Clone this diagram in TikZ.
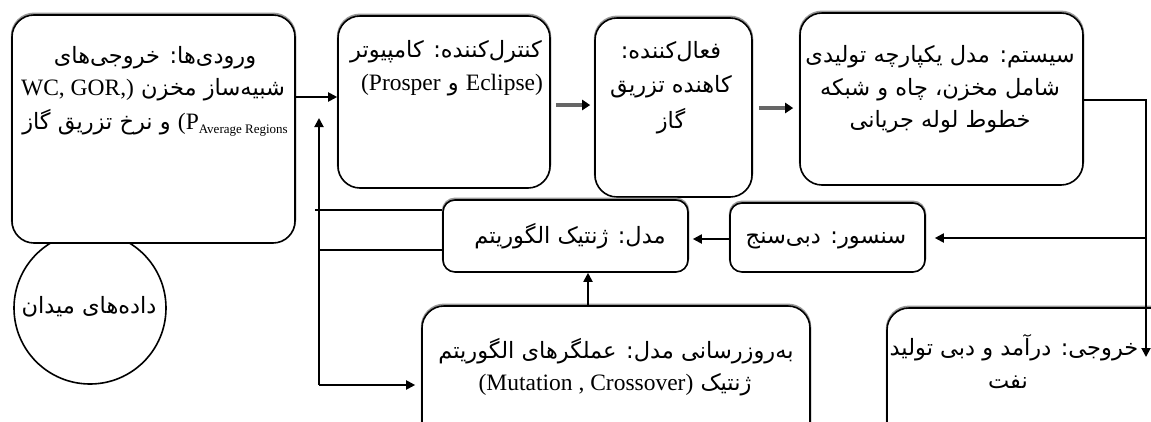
\documentclass[tikz,border=0pt]{standalone}
\usepackage{fontspec}
\setmainfont{Liberation Serif}
\newfontfamily\fa[Script=Arabic]{DejaVu Sans}
\TeXXeTstate=1
\usetikzlibrary{arrows.meta,fit}
\newcommand\fatext[1]{{\fa\beginR #1\endR}}
\newcommand\lt[1]{{\rmfamily\fontsize{23.5}{26}\selectfont #1}}
\begin{document}
\begin{tikzpicture}[x=1pt,y=-1pt,
  box/.style={draw, line width=1.6pt, fill=white, rounded corners=22pt, inner sep=0pt,
    preaction={draw=black!40, line width=2.5pt, transform canvas={yshift=1.2pt}}},
  sbox/.style={box, rounded corners=12pt},
  t/.style={anchor=base, inner sep=0pt, font=\fa\fontsize{22.5}{26}\selectfont},
  ln/.style={line width=1.9pt},
  arr/.style={ln, -{Triangle[length=9pt,width=9pt]}},
  garr/.style={line width=3.8pt, draw=black!60, -{Triangle[length=8pt,width=10pt,color=black]}}]
\useasboundingbox (0,0) rectangle (1151,421);
\clip (0,0) rectangle (1151,421);
% field data circle (drawn first, box covers its top)
\node[circle, draw, line width=1.6pt, minimum size=152pt, inner sep=0pt] (field) at (90,308) {};
\node[t] (fieldt) at (89,313) {\fatext{داده‌های میدان}};
% boxes
\node[box, fit={(12,15) (295,243)}] (in) {};
\node[box, fit={(338,16) (550,188)}] (ctrl) {};
\node[box, fit={(595,18) (752,197)}] (act) {};
\node[box, fit={(800,13) (1083,185)}] (sys) {};
\node[sbox, fit={(443,200) (688,272)}] (ga) {};
\node[sbox, fit={(730,203) (925,272)}] (sensor) {};
\node[box, fit={(422,306) (810,470)}] (upd) {};
\node[box, fit={(887,308) (1180,470)}] (out) {};
% texts
\node[t] (in1) at (155,63) {\fatext{ورودی‌ها: خروجی‌های}};
\node[t] (in2) at (153,95) {\lt{WC, GOR,)} \fatext{شبیه‌ساز مخزن}};
\node[t] (in3) at (155,129) {\fatext{و نرخ تزریق گاز} \lt{(P\raisebox{-4pt}{\fontsize{13}{13}\selectfont Average Regions}}};
\node[t] (ctrl1) at (446,57) {\fatext{کنترل‌کننده: کامپیوتر}};
\node[t] (ctrl2) at (452,90) {\lt{(Prosper} \fatext{و} \lt{Eclipse)}};
\node[t] (act1) at (671,58) {\fatext{فعال‌کننده:}};
\node[t] (act2) at (671,92) {\fatext{کاهنده تزریق}};
\node[t] (act3) at (671,128) {\fatext{گاز}};
\node[t] (sys1) at (940,62) {\fatext{سیستم: مدل یکپارچه تولیدی}};
\node[t] (sys2) at (940,95) {\fatext{شامل مخزن، چاه و شبکه}};
\node[t] (sys3) at (940,127) {\fatext{خطوط لوله جریانی}};
\node[t] (gat) at (570,243) {\fatext{مدل: ژنتیک الگوریتم}};
\node[t] (sent) at (826,243) {\fatext{سنسور: دبی‌سنج}};
\node[t] (upd1) at (616,358) {\fatext{به‌روزرسانی مدل: عملگرهای الگوریتم}};
\node[t] (upd2) at (615,390) {\lt{(Mutation , Crossover)} \fatext{ژنتیک}};
\node[t] (out1) at (1014,355) {\fatext{خروجی: درآمد و دبی تولید}};
\node[t] (out2) at (1008,388) {\fatext{نفت}};
% connectors
\coordinate (a1) at (0,97);
\draw[arr] (a1 -| in.east) -- (a1 -| ctrl.west);
\coordinate (a2) at (0,105);
\draw[garr, shorten <=5pt, shorten >=4pt] (a2 -| ctrl.east) -- (a2 -| act.west);
\coordinate (a3) at (0,108);
\draw[garr, shorten <=6pt, shorten >=6pt] (a3 -| act.east) -- (a3 -| sys.west);
\coordinate (rc) at (1146,100);
\coordinate (rb) at (1146,357);
\draw[arr] (rc -| sys.east) -- (rc) -- (rb);
\coordinate (rs) at (1146,238);
\draw[arr, shorten >=9pt] (rs) -- (rs -| sensor.east);
\coordinate (sg) at (0,239);
\draw[arr, shorten >=4pt] (sg -| sensor.west) -- (sg -| ga.east);
\coordinate (ug) at (588,0);
\draw[arr] (ug |- upd.north) -- (ug |- ga.south);
\coordinate (fbTop) at (319,118);
\coordinate (fbBot) at (319,385);
\draw[arr] (fbBot) -- (fbTop);
\draw[arr, shorten >=6pt] (fbBot) -- (fbBot -| upd.west);
\coordinate (r210) at (315,210);
\draw[ln] (r210) -- (r210 -| ga.west);
\coordinate (r250) at (319,250);
\draw[ln] (r250) -- (r250 -| ga.west);
\end{tikzpicture}
\end{document}
